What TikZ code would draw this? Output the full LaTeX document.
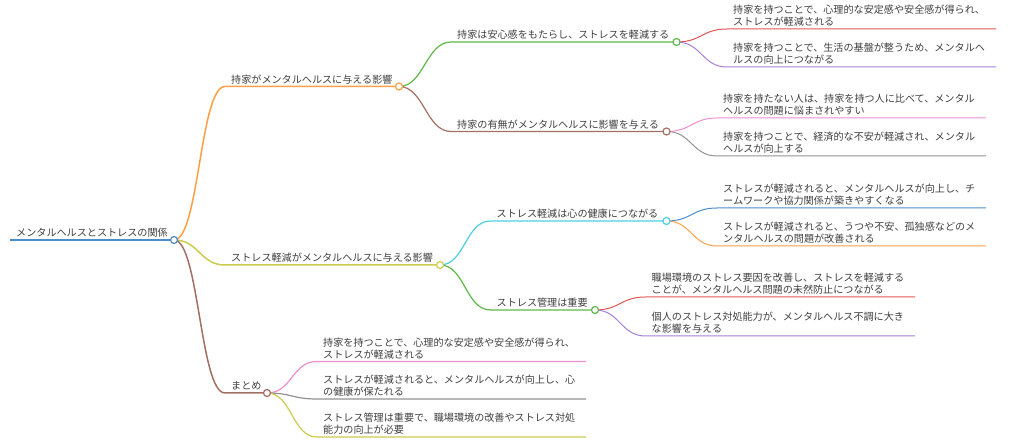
\documentclass[tikz,border=0pt]{standalone}
\usepackage{fontspec}
\newfontfamily\jp{Noto Sans CJK JP}
\usetikzlibrary{calc}
\definecolor{cblue}{HTML}{4A8FCC}
\definecolor{corange}{HTML}{FF9F45}
\definecolor{cyellow}{HTML}{CBCB4E}
\definecolor{cbrown}{HTML}{A27062}
\definecolor{cgreen}{HTML}{5FB84A}
\definecolor{cred}{HTML}{E25555}
\definecolor{cpurple}{HTML}{A57FD6}
\definecolor{cpink}{HTML}{EE8FD0}
\definecolor{cgray}{HTML}{929292}
\definecolor{ccyan}{HTML}{4CCFE0}
\definecolor{txt}{HTML}{3E3E3E}
\newcommand{\twolines}[2]{\parbox[b]{300pt}{#1\\#2}}
\tikzset{
  lbl/.style={anchor=base west, inner sep=0pt, text=txt, font=\jp\fontsize{10.1}{12}\selectfont},
  dot/.style={circle, draw, fill=white, inner sep=0pt, minimum size=7pt, line width=1.2pt},
  lk0/.style={line width=1.8pt},
  lk1/.style={line width=1.5pt},
  lk2/.style={line width=1.2pt},
  lk3/.style={line width=1pt},
  bez/.style={to path={.. controls +(25,0) and +(-25,0) .. (\tikztotarget)}}
}
\begin{document}
\begin{tikzpicture}[x=1pt,y=-1pt]
\useasboundingbox (0,0) rectangle (1010,446);
% coordinates of node underlines (start / end)
\coordinate (r0) at (10,240);     \coordinate (r1) at (174,240);
\coordinate (a0) at (225,86.5);   \coordinate (a1) at (399,86.5);
\coordinate (b0) at (225,265);    \coordinate (b1) at (440,265);
\coordinate (c0) at (225,393);    \coordinate (c1) at (267,393);
\coordinate (aa0) at (451,42);    \coordinate (aa1) at (676.5,42);
\coordinate (ab0) at (451,131.5); \coordinate (ab1) at (666.5,131.5);
\coordinate (ba0) at (490.5,221); \coordinate (ba1) at (666.5,221);
\coordinate (bb0) at (490.5,310); \coordinate (bb1) at (595,310);
\coordinate (aaa0) at (727,29);   \coordinate (aaa1) at (996,29);
\coordinate (aab0) at (727,67);   \coordinate (aab1) at (996,67);
\coordinate (aba0) at (717,118);  \coordinate (aba1) at (986,118);
\coordinate (abb0) at (717,156);  \coordinate (abb1) at (986,156);
\coordinate (baa0) at (717,208);  \coordinate (baa1) at (986,208);
\coordinate (bab0) at (717,246);  \coordinate (bab1) at (986,246);
\coordinate (bba0) at (645.5,297);\coordinate (bba1) at (915,297);
\coordinate (bbb0) at (645.5,336);\coordinate (bbb1) at (915,336);
\coordinate (ca0) at (317,361.5); \coordinate (ca1) at (586,361.5);
\coordinate (cb0) at (317,399);   \coordinate (cb1) at (586,399);
\coordinate (cc0) at (317,437);   \coordinate (cc1) at (586,437);

% connectors and underlines
\draw[lk0, cblue] (r0) -- (r1);
\draw[lk1, corange] (r1) to[bez] (a0) -- (a1);
\draw[lk1, cyellow] (r1) to[bez] (b0) -- (b1);
\draw[lk1, cbrown] (r1) to[bez] (c0) -- (c1);
\draw[lk2, cgreen] (a1) to[bez] (aa0) -- (aa1);
\draw[lk2, cbrown] (a1) to[bez] (ab0) -- (ab1);
\draw[lk2, ccyan] (b1) to[bez] (ba0) -- (ba1);
\draw[lk2, cgreen] (b1) to[bez] (bb0) -- (bb1);
\draw[lk3, cred] (aa1) to[bez] (aaa0) -- (aaa1);
\draw[lk3, cpurple] (aa1) to[bez] (aab0) -- (aab1);
\draw[lk3, cpink] (ab1) to[bez] (aba0) -- (aba1);
\draw[lk3, cgray] (ab1) to[bez] (abb0) -- (abb1);
\draw[lk3, cblue] (ba1) to[bez] (baa0) -- (baa1);
\draw[lk3, corange] (ba1) to[bez] (bab0) -- (bab1);
\draw[lk3, cred] (bb1) to[bez] (bba0) -- (bba1);
\draw[lk3, cpurple] (bb1) to[bez] (bbb0) -- (bbb1);
\draw[lk2, cpink] (c1) to[bez] (ca0) -- (ca1);
\draw[lk2, cgray] (c1) to[bez] (cb0) -- (cb1);
\draw[lk2, cyellow] (c1) to[bez] (cc0) -- (cc1);

% circles
\node[dot, draw=cblue] (dr) at (r1) {};
\node[dot, draw=corange] (da) at (a1) {};
\node[dot, draw=cyellow] (db) at (b1) {};
\node[dot, draw=cbrown] (dc) at (c1) {};
\node[dot, draw=cgreen] (daa) at (aa1) {};
\node[dot, draw=cbrown] (dab) at (ab1) {};
\node[dot, draw=ccyan] (dba) at (ba1) {};
\node[dot, draw=cgreen] (dbb) at (bb1) {};

% texts
\node[lbl] (tr) at ($(r0)+(6,-3.3)$) {メンタルヘルスとストレスの関係};
\node[lbl] (ta) at ($(a0)+(6,-3.3)$) {持家がメンタルヘルスに与える影響};
\node[lbl] (tb) at ($(b0)+(6,-3.3)$) {ストレス軽減がメンタルヘルスに与える影響};
\node[lbl] (tc) at ($(c0)+(6,-3.3)$) {まとめ};
\node[lbl] (taa) at ($(aa0)+(6,-3.3)$) {持家は安心感をもたらし、ストレスを軽減する};
\node[lbl] (tab) at ($(ab0)+(6,-3.3)$) {持家の有無がメンタルヘルスに影響を与える};
\node[lbl] (tba) at ($(ba0)+(6,-3.3)$) {ストレス軽減は心の健康につながる};
\node[lbl] (tbb) at ($(bb0)+(6,-3.3)$) {ストレス管理は重要};
\node[lbl] (taaa) at ($(aaa0)+(6,-3.3)$) {\twolines{持家を持つことで、心理的な安定感や安全感が得られ、}{ストレスが軽減される}};
\node[lbl] (taab) at ($(aab0)+(6,-3.3)$) {\twolines{持家を持つことで、生活の基盤が整うため、メンタルヘ}{ルスの向上につながる}};
\node[lbl] (taba) at ($(aba0)+(6,-3.3)$) {\twolines{持家を持たない人は、持家を持つ人に比べて、メンタル}{ヘルスの問題に悩まされやすい}};
\node[lbl] (tabb) at ($(abb0)+(6,-3.3)$) {\twolines{持家を持つことで、経済的な不安が軽減され、メンタル}{ヘルスが向上する}};
\node[lbl] (tbaa) at ($(baa0)+(6,-3.3)$) {\twolines{ストレスが軽減されると、メンタルヘルスが向上し、チ}{ームワークや協力関係が築きやすくなる}};
\node[lbl] (tbab) at ($(bab0)+(6,-3.3)$) {\twolines{ストレスが軽減されると、うつや不安、孤独感などのメ}{ンタルヘルスの問題が改善される}};
\node[lbl] (tbba) at ($(bba0)+(6,-3.3)$) {\twolines{職場環境のストレス要因を改善し、ストレスを軽減する}{ことが、メンタルヘルス問題の未然防止につながる}};
\node[lbl] (tbbb) at ($(bbb0)+(6,-3.3)$) {\twolines{個人のストレス対処能力が、メンタルヘルス不調に大き}{な影響を与える}};
\node[lbl] (tca) at ($(ca0)+(6,-3.3)$) {\twolines{持家を持つことで、心理的な安定感や安全感が得られ、}{ストレスが軽減される}};
\node[lbl] (tcb) at ($(cb0)+(6,-3.3)$) {\twolines{ストレスが軽減されると、メンタルヘルスが向上し、心}{の健康が保たれる}};
\node[lbl] (tcc) at ($(cc0)+(6,-3.3)$) {\twolines{ストレス管理は重要で、職場環境の改善やストレス対処}{能力の向上が必要}};
\end{tikzpicture}
\end{document}
